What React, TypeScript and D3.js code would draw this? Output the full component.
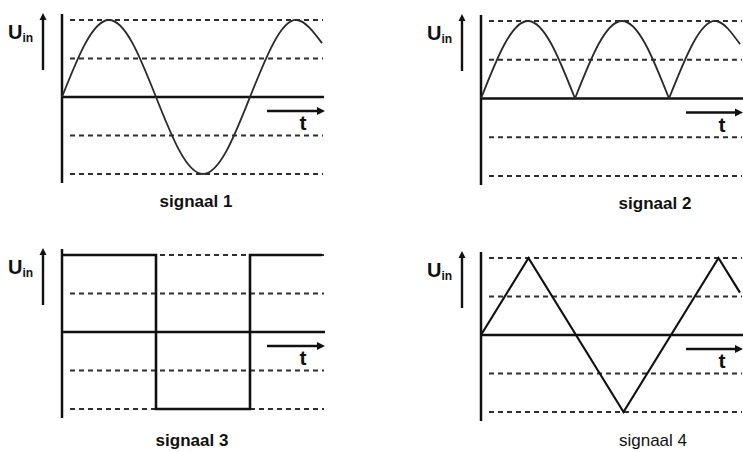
import React from "react";
import * as d3 from "d3";

// ---- data ----
const dashedLevels = [-2, -1, 1, 2];
const titles = ["signaal 1", "signaal 2", "signaal 3", "signaal 4"];

const sig1T = [0, 0.125, 0.25, 0.375, 0.5, 0.625, 0.75, 0.875, 1, 1.125, 1.25, 1.383];
const sig1V = [0, 1.4, 2, 1.4, 0, -1.4, -2, -1.4, 0, 1.4, 2, 1.4];

// rectified sine, one arch per array
const sig2Arches = [
  { t: [0, 0.125, 0.25, 0.375, 0.5], v: [0, 1.4, 2, 1.4, 0] },
  { t: [0.5, 0.625, 0.75, 0.875, 1], v: [0, 1.4, 2, 1.4, 0] },
  { t: [1, 1.125, 1.25, 1.378], v: [0, 1.4, 2, 1.4] },
];

const sig3T = [0, 0.5, 0.5, 1, 1, 1.383];
const sig3V = [2, 2, -2, -2, 2, 2];

const sig4T = [0, 0.25, 0.75, 1.25, 1.363];
const sig4V = [0, 2, -2, 2, 1.1];

// ---- layout ----
const W = 743;
const H = 452;
const panels = [
  { ax: 62, yTop: 20, yBot: 174, period: 188, xEnd: 324, titleX: 196, titleY: 207, bold: true },
  { ax: 481, yTop: 21, yBot: 176, period: 188, xEnd: 743, titleX: 655, titleY: 209, bold: true },
  { ax: 62, yTop: 255, yBot: 409, period: 188, xEnd: 325, titleX: 192, titleY: 446, bold: true },
  { ax: 481, yTop: 258, yBot: 412, period: 190, xEnd: 743, titleX: 653, titleY: 446, bold: false },
];

type Pt = [number, number];
const zip = (t: number[], v: number[]): Pt[] => t.map((d, i) => [d, v[i]]);

function Panel({ p, idx }: { p: typeof panels[number]; idx: number }) {
  const x = d3.scaleLinear().domain([0, 1]).range([p.ax, p.ax + p.period]);
  const y = d3.scaleLinear().domain([-2, 2]).range([p.yBot, p.yTop]);
  const yZero = y(0);
  const lineNat = d3.line<Pt>().x((d) => x(d[0])).y((d) => y(d[1])).curve(d3.curveNatural);
  const lineLin = d3.line<Pt>().x((d) => x(d[0])).y((d) => y(d[1]));

  let signal: React.ReactNode = null;
  if (idx === 0) {
    signal = <path d={lineNat(zip(sig1T, sig1V)) || ""} fill="none" stroke="#2a2a2a" strokeWidth={1.8} />;
  } else if (idx === 1) {
    signal = sig2Arches.map((a, i) => (
      <path key={i} d={lineNat(zip(a.t, a.v)) || ""} fill="none" stroke="#2a2a2a" strokeWidth={1.8} />
    ));
  } else if (idx === 2) {
    signal = <path d={lineLin(zip(sig3T, sig3V)) || ""} fill="none" stroke="#111" strokeWidth={2.6} />;
  } else {
    signal = <path d={lineLin(zip(sig4T, sig4V)) || ""} fill="none" stroke="#111" strokeWidth={2.2} />;
  }

  const ux = p.ax - 19;
  const tx0 = p.ax + 205;
  const tx1 = Math.min(p.ax + 263, W);
  const ty = yZero + 14;

  return (
    <g>
      {dashedLevels.map((l) => (
        <line
          key={l}
          x1={p.ax + 8}
          x2={p.xEnd - 1}
          y1={y(l)}
          y2={y(l)}
          stroke="#2e2e2e"
          strokeWidth={2}
          strokeDasharray="5,4"
        />
      ))}
      <line x1={p.ax} x2={p.ax} y1={p.yTop - 6} y2={p.yBot + 9} stroke="#111" strokeWidth={2.5} />
      <line x1={p.ax} x2={p.xEnd} y1={yZero} y2={yZero} stroke="#111" strokeWidth={2.5} />
      {signal}
      <line x1={ux} x2={ux} y1={p.yTop + 50} y2={p.yTop - 1} stroke="#111" strokeWidth={2.4} />
      <path d={`M${ux - 3.5},${p.yTop} L${ux},${p.yTop - 7} L${ux + 3.5},${p.yTop} Z`} fill="#111" />
      <text x={p.ax - 54} y={p.yTop + 19} fontFamily="Liberation Sans, Arial, sans-serif" fontWeight="bold" fontSize={20} fill="#111">
        U
        <tspan fontSize={12} dy={3}>in</tspan>
      </text>
      <line x1={tx0} x2={tx1 - 4} y1={ty} y2={ty} stroke="#111" strokeWidth={2.4} />
      <path d={`M${tx1 - 8},${ty - 4} L${tx1},${ty} L${tx1 - 8},${ty + 4} Z`} fill="#111" />
      <text x={p.ax + 241} y={yZero + 33} textAnchor="middle" fontFamily="Liberation Sans, Arial, sans-serif" fontWeight="bold" fontSize={21} fill="#111">
        t
      </text>
      <text
        x={p.titleX}
        y={p.titleY}
        textAnchor="middle"
        fontFamily="Liberation Sans, Arial, sans-serif"
        fontWeight={p.bold ? "bold" : "normal"}
        fontSize={17}
        fill="#111"
      >
        {titles[idx]}
      </text>
    </g>
  );
}

export default function App() {
  return (
    <svg
      width={W}
      height={H}
      viewBox={`0 0 ${W} ${H}`}
      style={{ position: "absolute", left: 0, top: 0, background: "#fff" }}
    >
      <rect x={0} y={0} width={W} height={H} fill="#fff" />
      {panels.map((p, i) => (
        <Panel key={i} p={p} idx={i} />
      ))}
    </svg>
  );
}
